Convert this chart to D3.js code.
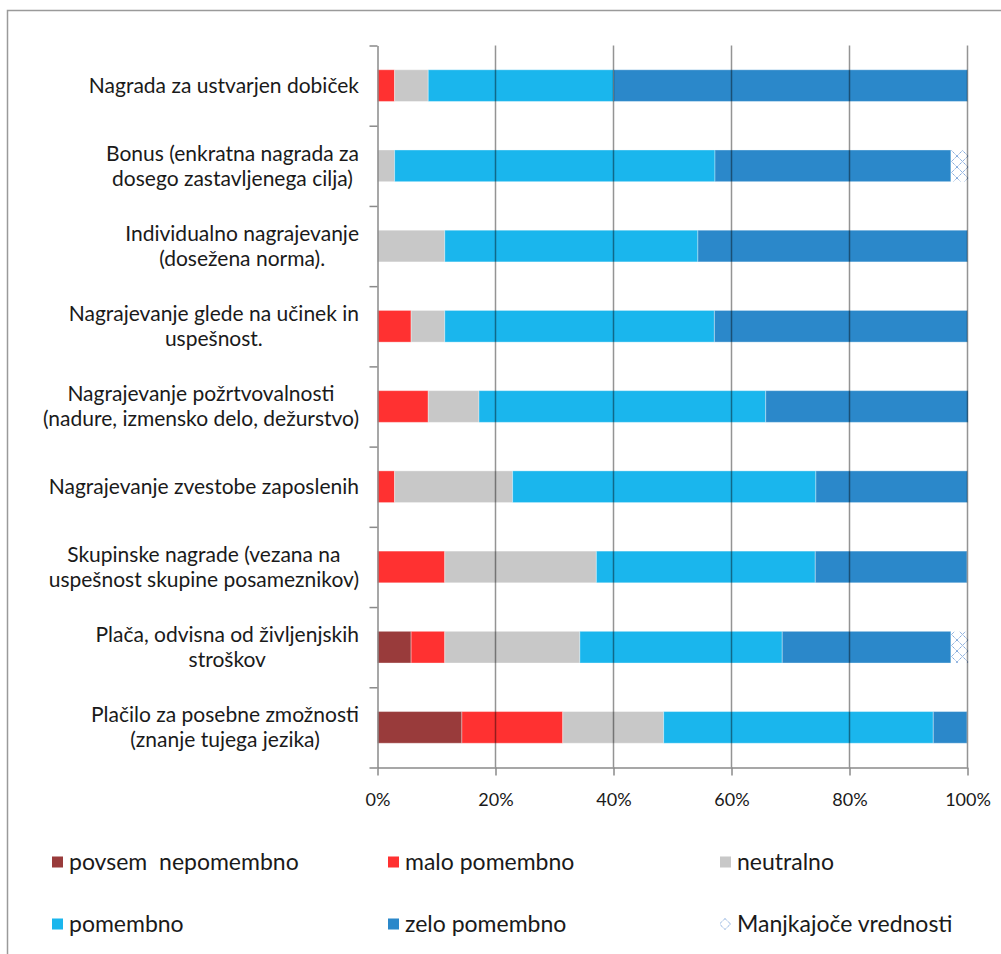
<!DOCTYPE html>
<html>
<head>
<meta charset="utf-8">
<script src="https://cdn.jsdelivr.net/npm/d3@7"></script>
<style>
html,body{margin:0;padding:0;background:#fff;}
svg{display:block;}
text{font-family:Lato,"Open Sans",sans-serif;fill:#1a1a1a;}
</style>
</head>
<body>
<svg id="chart" width="1001" height="954"></svg>
<script>
const categories = [
  "Nagrada za ustvarjen dobiček",
  "Bonus (enkratna nagrada za\ndosego zastavljenega cilja)",
  "Individualno nagrajevanje\n(dosežena norma).",
  "Nagrajevanje glede na učinek in\nuspešnost.",
  "Nagrajevanje požrtvovalnosti\n(nadure, izmensko delo, dežurstvo)",
  "Nagrajevanje zvestobe zaposlenih",
  "Skupinske nagrade (vezana na\nuspešnost skupine posameznikov)",
  "Plača, odvisna od življenjskih\nstroškov",
  "Plačilo za posebne zmožnosti\n(znanje tujega jezika)"
];
const seriesNames = ["povsem nepomembno","malo pomembno","neutralno","pomembno","zelo pomembno","Manjkajoče vrednosti"];
const povsemNepomembno = [0, 0, 0, 0, 0, 0, 0, 5.7, 14.3];
const maloPomembno     = [2.9, 0, 0, 5.7, 8.6, 2.9, 11.4, 5.7, 17.1];
const neutralno        = [5.7, 2.9, 11.4, 5.7, 8.6, 20.0, 25.7, 22.9, 17.1];
const pomembno         = [31.4, 54.3, 42.9, 45.7, 48.6, 51.4, 37.1, 34.3, 45.7];
const zeloPomembno     = [60.0, 40.0, 45.7, 42.9, 34.3, 25.7, 25.7, 28.6, 5.7];
const manjkajoce       = [0, 2.9, 0, 0, 0, 0, 0, 2.9, 0];
const tickValues = [0, 20, 40, 60, 80, 100];

const colors = ["#993B3B", "#FF3131", "#C8C8C8", "#1AB6ED", "#2B88CA", "url(#hatch)"];
const seriesArrays = [povsemNepomembno, maloPomembno, neutralno, pomembno, zeloPomembno, manjkajoce];

const rows = categories.map((c, i) => {
  const r = {cat: c};
  seriesNames.forEach((s, j) => r[s] = seriesArrays[j][i]);
  return r;
});

const svg = d3.select("#chart");
const defs = svg.append("defs");
function makeHatch(id, px, py) {
  const pat = defs.append("pattern").attr("id", id).attr("patternUnits", "userSpaceOnUse")
    .attr("width", 11).attr("height", 11).attr("x", px).attr("y", py);
  pat.append("rect").attr("width", 11).attr("height", 11).attr("fill", "#fff");
  pat.append("path").attr("d", "M0,0L11,11M11,0L0,11").attr("stroke", "#6F9BD6")
    .attr("stroke-width", 1).attr("stroke-dasharray", "1.2,0.8").attr("fill", "none");
}
makeHatch("hatch", 0, 2);
makeHatch("hatchLegend", 720, 918.5);

// outer frame
svg.append("rect").attr("x", 7.5).attr("y", 10.5).attr("width", 1010).attr("height", 960)
  .attr("fill", "none").attr("stroke", "#9a9a9a").attr("stroke-width", 1.5);

const x0 = 377.5, x1 = 967.5, yTop = 45.5, yBot = 767.5;
const x = d3.scaleLinear().domain([0, 100]).range([x0, x1]);
const y = d3.scaleBand().domain(categories).range([yTop, yBot]).paddingInner(0.605).paddingOuter(0.3025);
const yb = d3.scaleLinear().domain([0, categories.length]).range([yTop, yBot]);

const stack = d3.stack().keys(seriesNames)(rows);

const g = svg.append("g");
stack.forEach((layer, k) => {
  g.append("g").attr("fill", colors[k])
    .selectAll("rect").data(layer).join("rect")
    .filter(d => d[1] - d[0] > 0)
    .attr("x", d => x(d[0]))
    .attr("width", d => x(d[1]) - x(d[0]))
    .attr("y", d => y(d.data.cat))
    .attr("height", y.bandwidth())
    .attr("stroke", "rgba(255,255,255,0.35)").attr("stroke-width", 1);
});

// gridlines over bars
svg.append("g").selectAll("line").data(tickValues.slice(1)).join("line")
  .attr("x1", d => x(d)).attr("x2", d => x(d))
  .attr("y1", yTop).attr("y2", yBot)
  .attr("stroke", "#000").attr("stroke-opacity", 0.42).attr("stroke-width", 1.5);

// left axis
const la = svg.append("g").attr("transform", `translate(${x0},0)`)
  .call(d3.axisLeft(yb).tickValues(d3.range(0, categories.length + 1)).tickFormat("").tickSize(8).tickSizeOuter(0));
la.selectAll("path,line").attr("stroke", "#8a8a8a").attr("stroke-width", 1.5);

// bottom axis
const ba = svg.append("g").attr("transform", `translate(0,${yBot})`)
  .call(d3.axisBottom(x).tickValues(tickValues).tickFormat(d => d + "%").tickSize(8).tickSizeOuter(0).tickPadding(18));
ba.selectAll("path,line").attr("stroke", "#8a8a8a").attr("stroke-width", 1.5);
ba.selectAll("text").attr("font-size", 18).attr("fill", "#1a1a1a").style("font-family", "Lato, sans-serif");

// category labels: lines centred within a block that is right-aligned to the axis
const labelRight = 359;
categories.forEach(c => {
  const lines = c.split("\n");
  const cy = y(c) + y.bandwidth() / 2;
  const t = svg.append("text").attr("text-anchor", "middle").attr("font-size", 21);
  const spans = lines.map((ln, i) => t.append("tspan")
      .attr("y", cy + (i - (lines.length - 1) / 2) * 25)
      .attr("dy", "0.35em").text(ln));
  const w = d3.max(spans, s => s.node().getComputedTextLength());
  spans.forEach(s => s.attr("x", labelRight - w / 2));
});

// legend
const legendItems = [
  {n: seriesNames[0], c: colors[0], x: 52, y: 862},
  {n: seriesNames[1], c: colors[1], x: 388, y: 862},
  {n: seriesNames[2], c: colors[2], x: 720, y: 862},
  {n: seriesNames[3], c: colors[3], x: 52, y: 924},
  {n: seriesNames[4], c: colors[4], x: 388, y: 924},
  {n: seriesNames[5], c: "url(#hatchLegend)", x: 720, y: 924}
];
const lg = svg.append("g").selectAll("g").data(legendItems).join("g")
  .attr("transform", d => `translate(${d.x},${d.y})`);
lg.append("rect").attr("x", 0).attr("y", -5.5).attr("width", 11).attr("height", 11)
  .attr("fill", d => d.c);
lg.append("text").attr("x", 17).attr("y", 0).attr("dy", "0.35em").attr("font-size", 23)
  .text(d => d.n === "povsem nepomembno" ? "povsem\u00a0 nepomembno" : d.n);
</script>
</body>
</html>
